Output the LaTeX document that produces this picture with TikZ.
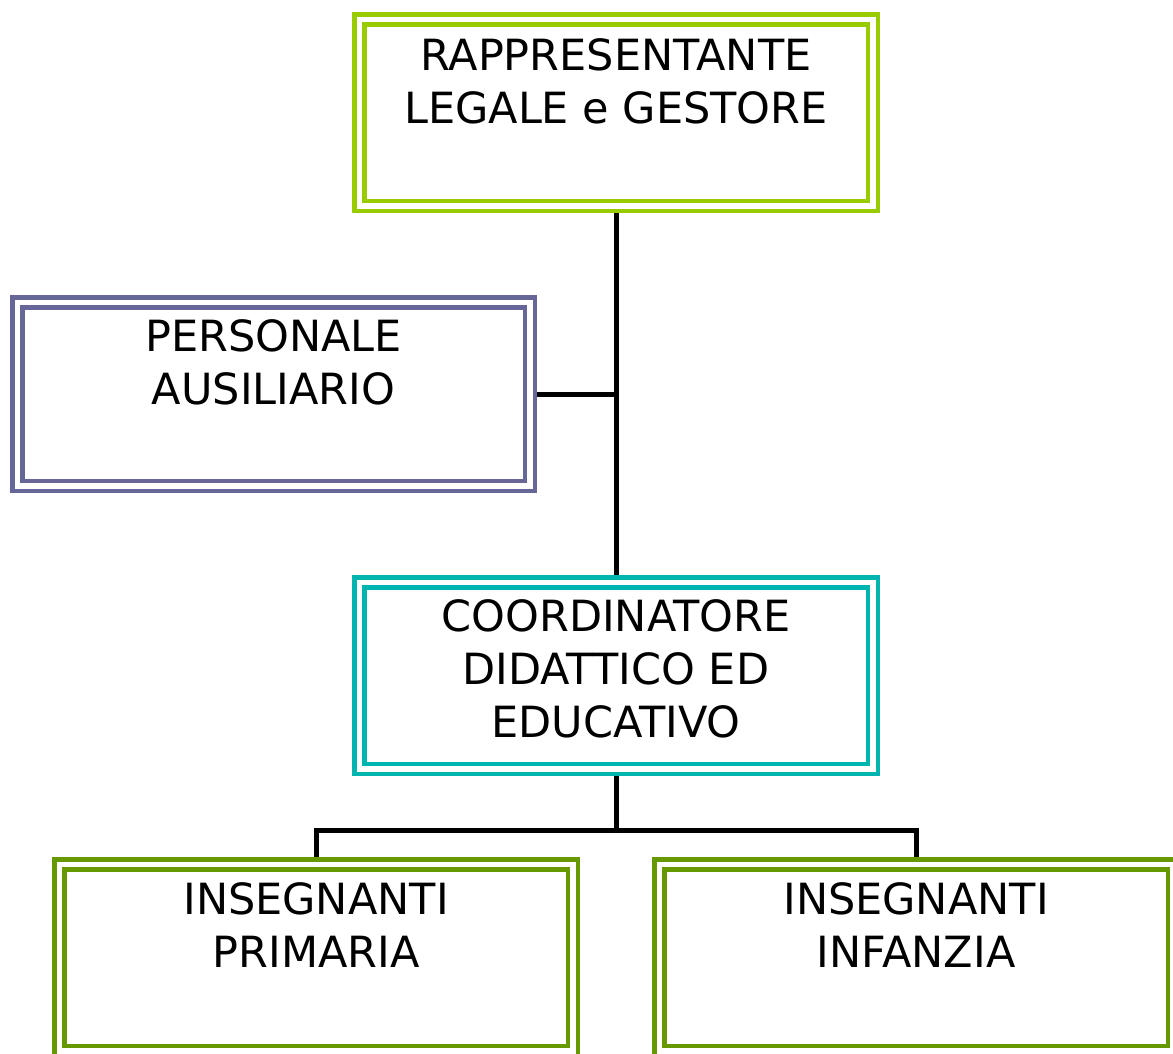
\documentclass[tikz,border=0pt]{standalone}
\usepackage{fontspec}
\setsansfont{DejaVu Sans}
\usetikzlibrary{positioning}
\definecolor{colLegale}{HTML}{99CC00}
\definecolor{colPersonale}{HTML}{666699}
\definecolor{colCoord}{RGB}{0,180,175}
\definecolor{colInsegnanti}{HTML}{669900}
\tikzset{
	ufficio/.style={draw=#1, double=white, line width=4.5pt, double distance=5.5pt,
		minimum width=513.5pt, minimum height=186.5pt, inner sep=0pt, outer sep=7.25pt},
	testo/.style={font=\sffamily\fontsize{43}{53}\selectfont, align=center, inner sep=0pt, outer sep=0pt},
	filo/.style={line width=5pt}
}

\begin{document}
\begin{tikzpicture}[x=1pt,y=-1pt]
		\useasboundingbox (0,0) rectangle (1173,1053);
		%boxes
		\node[ufficio=colLegale] (legale) at (616,112.5) {};
		\node[ufficio=colPersonale, minimum width=512.5pt, minimum height=183.5pt] (personale) at (273.5,394) {};
		\node[ufficio=colCoord] (coord) at (616,675.5) {};
		\node[ufficio=colInsegnanti] (primaria) at (316,957.5) {};
		\node[ufficio=colInsegnanti] (infanzia) at (916,957.5) {};
		%texts
		\node[testo, below=26.5pt of legale.north] (tlegale) {RAPPRESENTANTE\\LEGALE e GESTORE};
		\node[testo, below=25pt of personale.north] (tpersonale) {PERSONALE\\AUSILIARIO};
		\node[testo, below=25pt of coord.north] (tcoord) {COORDINATORE\\DIDATTICO ED\\EDUCATIVO};
		\node[testo, below=25.5pt of primaria.north] (tprimaria) {INSEGNANTI\\PRIMARIA};
		\node[testo, below=25.5pt of infanzia.north] (tinfanzia) {INSEGNANTI\\INFANZIA};
		%connectors
		\coordinate (fork) at (616,830);
		\draw[filo] (legale.south) -- (coord.north);
		\draw[filo] (personale.east) -- (personale.east -| legale.south);
		\draw[filo] (coord.south) -- (fork);
		\draw[filo] (primaria.north) |- (fork) -| (infanzia.north);
\end{tikzpicture}
\end{document}
